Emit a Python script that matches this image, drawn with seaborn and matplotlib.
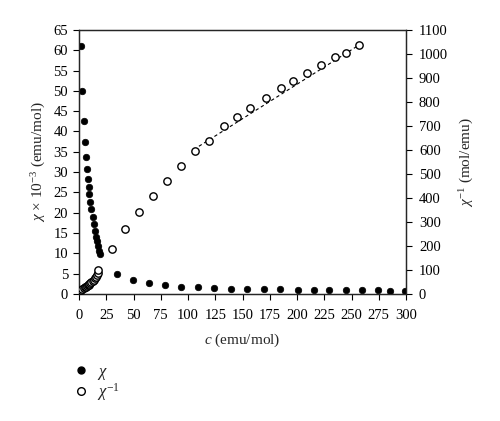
import seaborn as sns
import matplotlib.pyplot as plt
from matplotlib.lines import Line2D
import pandas as pd

sns.set_style("ticks")
plt.rcParams["font.family"] = ["Liberation Serif", "DejaVu Serif"]
plt.rcParams["mathtext.fontset"] = "custom"
plt.rcParams["mathtext.rm"] = "Liberation Serif"
plt.rcParams["mathtext.it"] = "Liberation Serif:italic"

# chi x 10^-3 (emu/mol), filled markers
chi_c = [1.8, 3.0, 4.3, 5.2, 6.1, 7.0, 8.0, 8.9, 9.5, 10.4, 11.3, 12.5, 13.5,
         14.4, 15.3, 16.2, 17.1, 18.3, 19.5,
         34.9, 49.6, 64.3, 78.9, 94.0, 108.9, 123.9, 139.1, 154.4, 169.7,
         184.4, 201.2, 215.9, 229.6, 244.7, 259.6, 274.6, 285.6, 299.0]
chi_val = [61.1, 49.9, 42.6, 37.4, 33.8, 30.8, 28.3, 26.4, 24.5, 22.6, 20.9,
           18.9, 17.2, 15.6, 14.1, 12.9, 11.7, 10.6, 9.8,
           5.0, 3.45, 2.65, 2.15, 1.8, 1.65, 1.45, 1.3, 1.3, 1.2,
           1.15, 1.05, 1.0, 1.0, 0.95, 0.9, 0.85, 0.8, 0.75]

# chi^-1 (mol/emu), open markers
inv_c = [1.8, 3.0, 4.3, 5.2, 6.1, 7.0, 8.0, 8.9, 9.5, 10.4, 11.3, 12.5, 13.5,
         14.4, 15.3, 16.2, 17.1, 17.7,
         30.0, 42.6, 55.0, 67.6, 80.5, 93.6, 106.7, 119.5, 133.3, 145.2,
         157.0, 171.3, 185.0, 196.6, 209.4, 222.3, 235.1, 244.8, 256.9]
inv_val = [16.4, 20.0, 23.5, 26.7, 29.6, 32.5, 35.3, 37.9, 40.8, 44.2, 47.8,
           52.9, 58.1, 64.1, 70.9, 77.5, 85.5, 98.0,
           187, 271, 340, 408, 472, 531, 594, 637, 699, 735,
           775, 817, 856, 887, 920, 954, 985, 1004, 1036]

# linear fit line through high-temperature chi^-1
fit_c = [110, 258]
fit_val = [615, 1040]

chi_df = pd.DataFrame({"c": chi_c, "chi": chi_val})
inv_df = pd.DataFrame({"c": inv_c, "inv": inv_val})

fig = plt.figure(figsize=(5, 4.21), dpi=100)
ax = fig.add_axes([0.158, 0.302, 0.654, 0.627])
ax2 = ax.twinx()

sns.scatterplot(data=chi_df, x="c", y="chi", ax=ax, s=22, color="black",
                edgecolor="black", linewidth=0.5, zorder=3)
ax2.plot(fit_c, fit_val, color="black", lw=0.8, dashes=(3, 2.5), zorder=2)
sns.scatterplot(data=inv_df, x="c", y="inv", ax=ax2, s=28, facecolor="white",
                edgecolor="black", linewidth=1.0, zorder=3)

ax.set_xlim(0, 300)
ax.set_ylim(0, 65)
ax2.set_ylim(0, 1100)
ax.set_xticks(range(0, 301, 25))
ax.set_yticks(range(0, 66, 5))
ax2.set_yticks(range(0, 1101, 100))

for a in (ax, ax2):
    a.tick_params(direction="out", length=4.3, width=0.8, labelsize=10.5,
                  colors="black")
    for sp in a.spines.values():
        sp.set_linewidth(0.9)
        sp.set_visible(True)
ax.tick_params(axis="x", top=False, pad=6.5)
ax.tick_params(axis="y", pad=3.5)
ax2.tick_params(axis="y", pad=5)

ax.set_xlabel(r"$c$ (emu/mol)", fontsize=11, labelpad=7)
ax.set_ylabel(r"$\chi$ $\times$ 10$^{-3}$ (emu/mol)", fontsize=11, labelpad=4)
ax2.set_ylabel(r"$\chi^{-1}$ (mol/emu)", fontsize=11, labelpad=7)

handles = [
    Line2D([], [], ls="none", marker="o", ms=5, mfc="black", mec="black"),
    Line2D([], [], ls="none", marker="o", ms=5.5, mfc="white", mec="black", mew=1),
]
fig.legend(handles, [r"$\chi$", r"$\chi^{-1}$"], loc="upper left",
           bbox_to_anchor=(0.112, 0.172), frameon=False, fontsize=12,
           handletextpad=0.35, labelspacing=0.0, handlelength=1.2)

fig.savefig("out.png", dpi=100)
plt.close(fig)
